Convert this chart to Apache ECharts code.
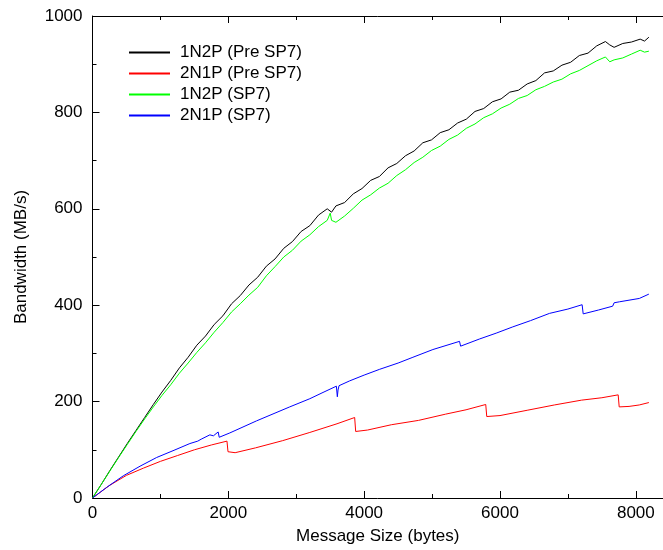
<!DOCTYPE html>
<html>
<head>
<meta charset="utf-8">
<script src="https://cdn.jsdelivr.net/npm/echarts@6/dist/echarts.min.js"></script>
<style>
  html, body { margin: 0; padding: 0; background: #fff; }
  #chart { width: 663px; height: 550px; }
</style>
</head>
<body>
<div id="chart"></div>
<script>
// series names
const seriesNames = ["1N2P (Pre SP7)", "2N1P (Pre SP7)", "1N2P (SP7)", "2N1P (SP7)"];

// 1N2P (Pre SP7) - black
const pre1n2pX = [0, 128, 256, 384, 512, 640, 768, 896, 1024, 1152, 1280, 1408, 1536, 1664, 1792, 1920,
  2048, 2176, 2304, 2432, 2560, 2688, 2816, 2944, 3072, 3200, 3328, 3456, 3520, 3584, 3712, 3840, 3968,
  4096, 4224, 4352, 4480, 4608, 4736, 4864, 4992, 5120, 5248, 5376, 5504, 5632, 5760, 5888, 6016,
  6144, 6272, 6400, 6528, 6656, 6784, 6912, 7040, 7168, 7296, 7424, 7552, 7616, 7680, 7808, 7936,
  8064, 8128, 8192];
const pre1n2pY = [0, 28, 57, 85, 113, 140, 167, 194, 220, 244, 270, 292, 317, 336, 360, 378,
  403, 420, 442, 458, 481, 496, 518, 532, 553, 565, 587, 600, 593, 606, 613, 631, 642,
  659, 667, 685, 694, 710, 720, 737, 743, 758, 764, 778, 786, 802, 808, 822, 828,
  842, 846, 859, 866, 882, 886, 898, 904, 918, 923, 938, 947, 940, 935, 943, 946,
  952, 948, 956];

// 2N1P (Pre SP7) - red
const pre2n1pX = [0, 250, 500, 750, 1000, 1250, 1500, 1750, 1980, 1995, 2100, 2400, 2800, 3200, 3600,
  3860, 3875, 4050, 4400, 4800, 5200, 5500, 5790, 5805, 6000, 6400, 6800, 7200, 7500, 7740, 7755,
  7900, 8050, 8192];
const pre2n1pY = [0, 26, 47, 62, 76, 88, 100, 110, 118, 96, 94, 104, 119, 136, 154,
  167, 138, 141, 152, 161, 174, 183, 194, 169, 171, 182, 193, 203, 208, 214, 189,
  190, 193, 198];

// 1N2P (SP7) - green
const sp71n2pX = [0, 128, 256, 384, 512, 640, 768, 896, 1024, 1152, 1280, 1408, 1536, 1664, 1792, 1920,
  2048, 2176, 2304, 2432, 2560, 2688, 2816, 2944, 3072, 3200, 3328, 3456, 3500, 3520, 3584, 3712, 3840,
  3968, 4096, 4224, 4352, 4480, 4608, 4736, 4864, 4992, 5120, 5248, 5376, 5504, 5632, 5760, 5888,
  6016, 6144, 6272, 6400, 6528, 6656, 6784, 6912, 7040, 7168, 7296, 7424, 7552, 7616, 7680, 7808,
  7936, 8064, 8128, 8192];
const sp71n2pY = [0, 28, 56, 84, 111, 138, 164, 189, 213, 235, 259, 280, 302, 322, 344, 364,
  386, 403, 421, 437, 461, 480, 500, 514, 533, 546, 563, 576, 591, 576, 572, 585, 601,
  618, 629, 643, 653, 669, 681, 696, 707, 721, 730, 744, 753, 767, 776, 789, 797,
  809, 817, 829, 835, 847, 854, 863, 869, 880, 887, 897, 907, 915, 905, 909, 913,
  921, 929, 925, 927];

// 2N1P (SP7) - blue
const sp72n1pX = [0, 208, 453, 700, 944, 1200, 1434, 1550, 1600, 1728, 1780, 1850, 1866, 2022, 2415,
  2904, 3200, 3394, 3591, 3605, 3615, 3630, 3787, 4000, 4228, 4500, 4718, 5012, 5404, 5420, 5700,
  5944, 6188, 6450, 6728, 7000, 7209, 7225, 7450, 7659, 7680, 7757, 8051, 8192];
const sp72n1pY = [0, 22, 46, 66, 84, 99, 113, 118, 122, 131, 129, 137, 126, 135, 160,
  189, 206, 219, 232, 210, 224, 233, 243, 255, 267, 280, 292, 308, 325, 315, 330,
  342, 355, 368, 383, 392, 401, 382, 390, 398, 405, 407, 414, 423];

const colors = ["#000000", "#ff0000", "#00ff00", "#0000ff"];
const xs = [pre1n2pX, pre2n1pX, sp71n2pX, sp72n1pX];
const ys = [pre1n2pY, pre2n1pY, sp71n2pY, sp72n1pY];

const chart = echarts.init(document.getElementById("chart"));
const font = "Liberation Sans, Arial, sans-serif";

const options = {
  animation: false,
  color: colors,
  grid: { left: 92.5, right: 0, top: 16, bottom: 52 },
  legend: {
    data: seriesNames,
    orient: "vertical",
    left: 129,
    top: 44,
    padding: 0,
    itemWidth: 41,
    itemHeight: 2,
    itemGap: 4,
    icon: "rect",
    textStyle: { fontFamily: font, fontSize: 17, color: "#000", lineHeight: 17, padding: [0, 0, 0, 5] }
  },
  xAxis: [
    {
      type: "value",
      min: 0,
      max: 8400,
      interval: 2000,
      name: "Message Size (bytes)",
      nameLocation: "middle",
      nameGap: 30,
      nameTextStyle: { fontFamily: font, fontSize: 17, color: "#000" },
      axisLine: { show: true, lineStyle: { color: "#000", width: 1 } },
      axisTick: { show: true, inside: true, length: 7, lineStyle: { color: "#000" } },
      minorTick: { show: true, splitNumber: 2, length: 4, lineStyle: { color: "#000" } },
      axisLabel: { fontFamily: font, fontSize: 17, color: "#000", margin: 7,
        showMaxLabel: false, formatter: function (v) { return String(v); } },
      splitLine: { show: false }
    },
    {
      type: "value",
      min: 0,
      max: 8400,
      interval: 2000,
      position: "top",
      axisLine: { show: true, lineStyle: { color: "#000", width: 1 } },
      axisTick: { show: true, inside: true, length: 7, lineStyle: { color: "#000" } },
      minorTick: { show: true, splitNumber: 2, length: 4, lineStyle: { color: "#000" } },
      axisLabel: { show: false },
      splitLine: { show: false }
    }
  ],
  yAxis: {
    type: "value",
    min: 0,
    max: 1000,
    interval: 200,
    name: "Bandwidth (MB/s)",
    nameLocation: "middle",
    nameRotate: 90,
    nameGap: 63,
    nameTextStyle: { fontFamily: font, fontSize: 17, color: "#000" },
    axisLine: { show: true, lineStyle: { color: "#000", width: 1 } },
    axisTick: { show: true, inside: true, length: 7, lineStyle: { color: "#000" } },
    minorTick: { show: true, splitNumber: 2, length: 4, lineStyle: { color: "#000" } },
    axisLabel: { fontFamily: font, fontSize: 17, color: "#000", margin: 10,
      formatter: function (v) { return String(v); } },
    splitLine: { show: false }
  },
  series: seriesNames.map(function (name, i) {
    return {
      name: name,
      type: "line",
      showSymbol: false,
      symbol: "none",
      lineStyle: { width: 1, color: colors[i] },
      data: xs[i].map(function (x, j) { return [x, ys[i][j]]; })
    };
  })
};

chart.setOption(options);
</script>
</body>
</html>
